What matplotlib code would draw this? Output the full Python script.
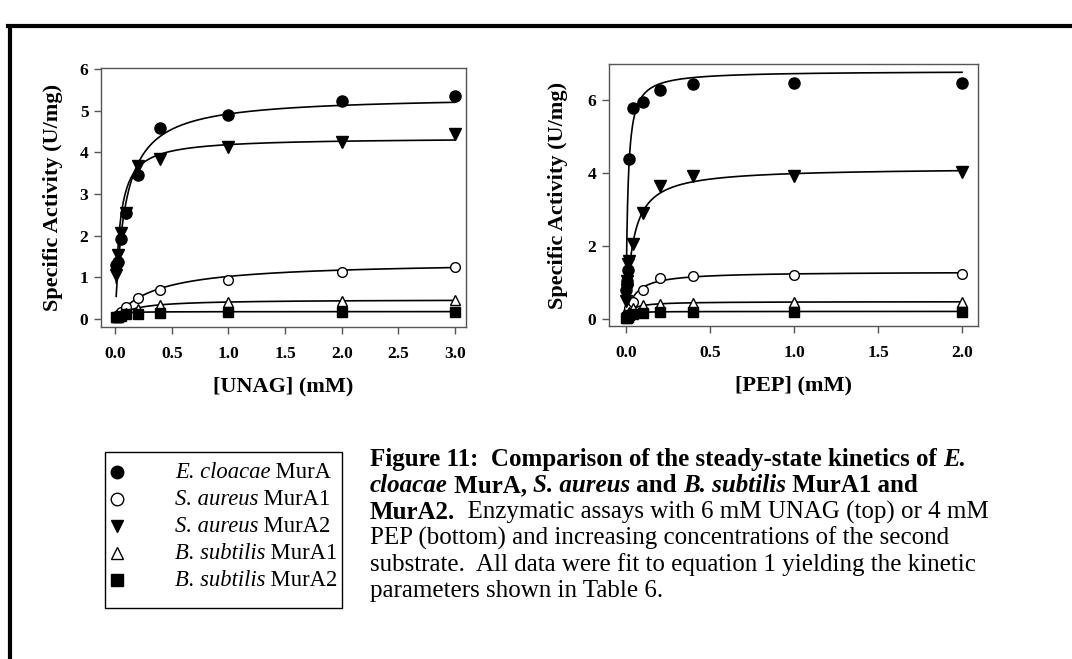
import numpy as np
import matplotlib
matplotlib.use("Agg")
import matplotlib.pyplot as plt
from matplotlib.patches import Rectangle
from matplotlib.lines import Line2D

W, H = 1072, 659
SERIF = "Liberation Serif"

# ---- data ----
unag = [0.01, 0.025, 0.05, 0.1, 0.2, 0.4, 1.0, 2.0, 3.0]
unag_ecl = [1.30, 1.38, 1.92, 2.54, 3.46, 4.57, 4.89, 5.22, 5.36]
unag_sa1 = [0.05, 0.10, 0.17, 0.30, 0.50, 0.70, 0.93, 1.12, 1.25]
unag_sa2 = [1.05, 1.54, 2.06, 2.55, 3.66, 3.85, 4.12, 4.25, 4.44]
unag_bs1 = [0.04, 0.06, 0.10, 0.15, 0.25, 0.33, 0.41, 0.44, 0.46]
unag_bs2 = [0.04, 0.05, 0.07, 0.12, 0.13, 0.15, 0.16, 0.17, 0.18]

pep = [0.002, 0.004, 0.006, 0.01, 0.02, 0.04, 0.1, 0.2, 0.4, 1.0, 2.0]
pep_ecl = [0.80, 0.95, 1.05, 1.35, 4.38, 5.78, 5.95, 6.28, 6.45, 6.48, 6.48]
pep_sa1 = [0.05, 0.08, 0.10, 0.20, 0.30, 0.47, 0.79, 1.13, 1.17, 1.20, 1.23]
pep_sa2 = [0.50, 0.80, 1.05, 1.50, 1.60, 2.05, 2.90, 3.65, 3.92, 3.93, 4.02]
pep_bs1 = [0.05, 0.06, 0.08, 0.10, 0.20, 0.30, 0.38, 0.42, 0.45, 0.47, 0.47]
pep_bs2 = [0.03, 0.04, 0.05, 0.07, 0.10, 0.15, 0.17, 0.20, 0.20, 0.20, 0.20]

# fitted Vmax / Km (equation 1)
unag_vmax = [5.35, 1.38, 4.35, 0.47, 0.18]
unag_km = [0.088, 0.35, 0.04, 0.15, 0.02]
pep_vmax = [6.80, 1.30, 4.15, 0.48, 0.21]
pep_km = [0.011, 0.05, 0.041, 0.03, 0.012]

names = [("E. cloacae", " MurA"), ("S. aureus", " MurA1"), ("S. aureus", " MurA2"),
         ("B. subtilis", " MurA1"), ("B. subtilis", " MurA2")]
styles = [dict(marker="o", ms=8, mfc="black"),
          dict(marker="o", ms=7, mfc="white"),
          dict(marker="v", ms=8, mfc="black"),
          dict(marker="^", ms=7, mfc="white"),
          dict(marker="s", ms=7, mfc="black")]

fig = plt.figure(figsize=(W / 100, H / 100), dpi=100)
renderer = fig.canvas.get_renderer()


def panel(rect, xs, ys, vmax, km, xlim, ylim, xticks, yticks, xlabel, ylab_x):
    ax = fig.add_axes(rect)
    xx = np.linspace(xs[0], xs[-1], 2000)
    for v, k in zip(vmax, km):
        ax.plot(xx, v * xx / (k + xx), color="black", lw=1.2, zorder=2)
    for y, st in zip(ys, styles):
        ax.plot(xs, y, ls="none", mec="black", mew=1, zorder=3, **st)
    ax.set_xlim(*xlim)
    ax.set_ylim(*ylim)
    ax.set_xticks(xticks)
    ax.set_xticklabels([f"{t:.1f}" for t in xticks])
    ax.set_yticks(yticks)
    ax.set_yticklabels([str(t) for t in yticks])
    for s in ax.spines.values():
        s.set_color("#555555")
        s.set_linewidth(1)
    ax.tick_params(direction="out", length=5, width=1, color="#555555")
    ax.tick_params(axis="x", pad=9)
    ax.tick_params(axis="y", pad=4)
    for lab in ax.get_xticklabels() + ax.get_yticklabels():
        lab.set_fontfamily(SERIF)
        lab.set_fontweight("bold")
        lab.set_fontsize(12.5)
    ax.set_xlabel(xlabel, family=SERIF, fontweight="bold", fontsize=16)
    ax.set_ylabel("Specific Activity (U/mg)", family=SERIF, fontweight="bold", fontsize=16)
    ax.yaxis.set_label_coords(ylab_x, 0.5)
    ax.xaxis.set_label_coords(0.5, -0.19)
    return ax


panel([101 / W, 1 - 327 / H, 365 / W, 259 / H], unag,
      [unag_ecl, unag_sa1, unag_sa2, unag_bs1, unag_bs2], unag_vmax, unag_km,
      (-0.124, 3.097), (-0.19, 6.02), [0, 0.5, 1.0, 1.5, 2.0, 2.5, 3.0],
      [0, 1, 2, 3, 4, 5, 6], "[UNAG] (mM)", -0.104)
panel([609 / W, 1 - 326 / H, 369 / W, 262 / H], pep,
      [pep_ecl, pep_sa1, pep_sa2, pep_bs1, pep_bs2], pep_vmax, pep_km,
      (-0.101, 2.095), (-0.19, 6.99), [0, 0.5, 1.0, 1.5, 2.0],
      [0, 2, 4, 6], "[PEP] (mM)", -0.111)


def width(s, **kw):
    t = fig.text(0, 0, s + "x", **kw)
    r = fig.text(0, 0, "x", **kw)
    w = t.get_window_extent(renderer).width - r.get_window_extent(renderer).width
    t.remove()
    r.remove()
    return w


def runs(xpx, ypx, parts, size=16):
    x = xpx
    for s, wt, st in parts:
        kw = dict(fontsize=size, fontweight=wt, fontstyle=st, family=SERIF)
        fig.text(x / W, 1 - ypx / H, s, va="baseline", ha="left", **kw)
        x += width(s, **kw)


# legend box
fig.add_artist(Rectangle((105 / W, 1 - 608 / H), 237 / W, 156 / H,
                         transform=fig.transFigure, fill=False, lw=1, color="black"))
rows = [472, 499, 526, 553, 580]
for (sp, en), st, yr in zip(names, styles, rows):
    kw = dict(st)
    kw["ms"] = 9
    fig.add_artist(Line2D([117 / W], [1 - yr / H], transform=fig.transFigure,
                          ls="none", mec="black", mew=1, **kw))
    runs(175, yr + 6, [(sp, "normal", "italic"), (en, "normal", "normal")], size=16.3)

# caption
B, N, I = "bold", "normal", "italic"
cap = [
    [("Figure 11:  Comparison of the steady-state kinetics of ", B, N), ("E.", B, I)],
    [("cloacae", B, I), (" MurA, ", B, N), ("S. aureus", B, I), (" and ", B, N),
     ("B. subtilis", B, I), (" MurA1 and", B, N)],
    [("MurA2.", B, N), ("  Enzymatic assays with 6 mM UNAG (top) or 4 mM", N, N)],
    [("PEP (bottom) and increasing concentrations of the second", N, N)],
    [("substrate.  All data were fit to equation 1 yielding the kinetic", N, N)],
    [("parameters shown in Table 6.", N, N)],
]
for i, line in enumerate(cap):
    runs(370, 466 + i * 26.3, line, size=18)

# page border (top and left)
fig.add_artist(Line2D([8 / W, 1.0], [1 - 26 / H, 1 - 26 / H], transform=fig.transFigure,
                      color="black", lw=3))
fig.add_artist(Line2D([10 / W, 10 / W], [0, 1 - 25 / H], transform=fig.transFigure,
                      color="black", lw=3, solid_capstyle="butt"))

fig.savefig("out.png", dpi=100)
